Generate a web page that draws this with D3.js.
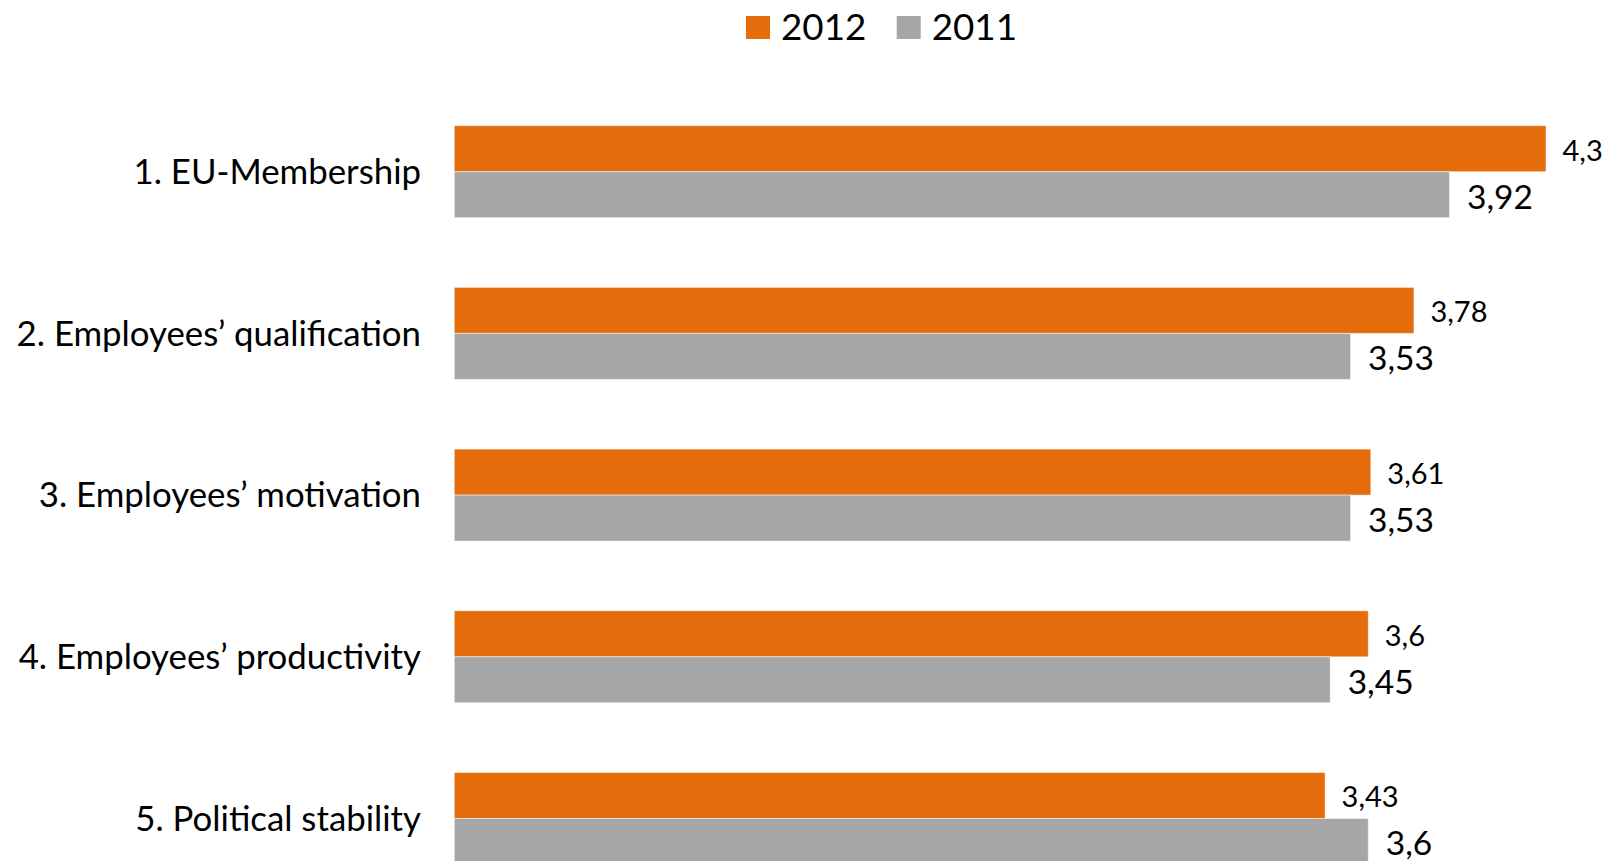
<!DOCTYPE html>
<html>
<head>
<meta charset="utf-8">
<script src="https://cdn.jsdelivr.net/npm/d3@7"></script>
<style>
  body { margin: 0; background: #fff; }
  svg { display: block; font-family: Lato, "Open Sans", sans-serif; }
</style>
</head>
<body>
<svg id="chart"></svg>
<script>
// data
var categories = ["1. EU-Membership", "2. Employees\u2019 qualification", "3. Employees\u2019 motivation",
                  "4. Employees\u2019 productivity", "5. Political stability"];
var values2012 = [4.3, 3.78, 3.61, 3.6, 3.43];
var values2011 = [3.92, 3.53, 3.53, 3.45, 3.6];
var seriesNames = ["2012", "2011"];
var colors = ["#e46c0a", "#a6a6a6"];

var svgWidth = 1606, svgHeight = 861;

var svg = d3.select("#chart")
  .attr("width", svgWidth)
  .attr("height", svgHeight);

// horizontal value scale
var x = d3.scaleLinear()
  .domain([0, 4.3])
  .range([454.3, 1546]);

// one band per category, split in two for the years
var y = d3.scaleBand()
  .domain(categories)
  .range([90.85, 899.35])
  .paddingInner(0.431)
  .paddingOuter(0.2155);

var ySub = d3.scaleBand()
  .domain(seriesNames)
  .range([0, y.bandwidth()]);

var rows = categories.map(function(c, i) {
  return { cat: c, vals: [values2012[i], values2011[i]] };
});

var groups = svg.append("g").attr("id", "plot")
  .selectAll("g")
  .data(rows)
  .enter().append("g")
  .attr("transform", d => "translate(0," + y(d.cat) + ")");

// bars
groups.selectAll("rect")
  .data(d => d.vals.map((v, k) => ({ v: v, k: k })))
  .enter().append("rect")
  .attr("x", x(0))
  .attr("y", d => ySub(seriesNames[d.k]))
  .attr("width", d => x(d.v) - x(0))
  .attr("height", ySub.bandwidth())
  .attr("fill", d => colors[d.k])
  .attr("stroke", "#fff")
  .attr("stroke-opacity", 0.5)
  .attr("stroke-width", 1);

// value labels (2012 smaller than 2011, like in the original)
groups.selectAll("text.val")
  .data(d => d.vals.map((v, k) => ({ v: v, k: k })))
  .enter().append("text")
  .attr("class", "val")
  .attr("x", d => x(d.v) + (d.k == 0 ? 16.5 : 17.5))
  .attr("y", d => ySub(seriesNames[d.k]) + (d.k == 0 ? 35 : 37))
  .style("font-size", d => d.k == 0 ? "29px" : "33.5px")
  .style("fill", "#000")
  .text(d => String(d.v).replace(".", ","));

// category axis labels
var yAxis = d3.axisLeft(y).tickSize(0).tickPadding(0);
var yGroup = svg.append("g").attr("id", "y-axis")
  .attr("transform", "translate(421,0)")
  .call(yAxis);
yGroup.select(".domain").remove();
yGroup.selectAll("text")
  .attr("dy", null)
  .attr("y", 12.3)
  .style("font-family", "Lato, 'Open Sans', sans-serif")
  .style("font-size", "34.8px")
  .style("fill", "#000");

// legend
var legend = svg.append("g").attr("id", "legend");
var legendX = [746, 896.7];
seriesNames.forEach(function(s, k) {
  legend.append("rect")
    .attr("x", legendX[k]).attr("y", 16)
    .attr("width", 24).attr("height", 23)
    .attr("fill", colors[k]);
  legend.append("text")
    .attr("x", legendX[k] + 35).attr("y", 40)
    .style("font-size", "36.8px")
    .text(s);
});
</script>
</body>
</html>
